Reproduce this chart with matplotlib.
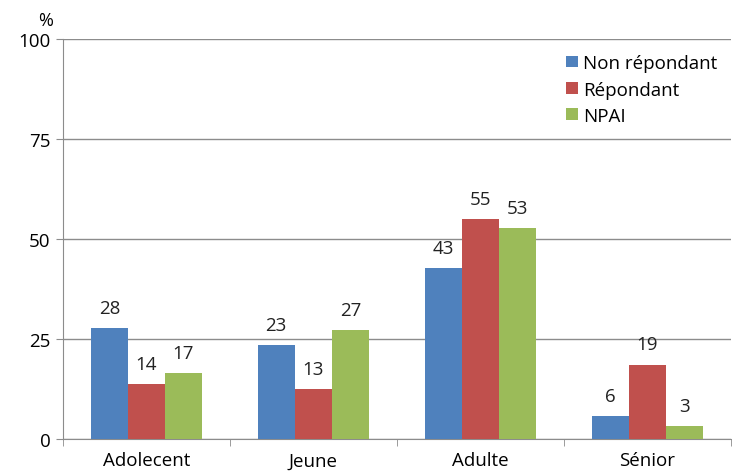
import numpy as np
import matplotlib
matplotlib.use("Agg")
import matplotlib.pyplot as plt

# donnees (%)
categories = ["Adolecent", "Jeune", "Adulte", "Sénior"]
series = ["Non répondant", "Répondant", "NPAI"]
non_repondant = [27.7, 23.5, 42.7, 5.8]
repondant = [13.7, 12.5, 54.9, 18.6]
npai = [16.4, 27.3, 52.7, 3.2]
etiquettes = [[28, 23, 43, 6], [14, 13, 55, 19], [17, 27, 53, 3]]
couleurs = ["#4F81BD", "#C0504D", "#9BBB59"]

plt.rcParams['font.family'] = ['Open Sans', 'DejaVu Sans']

fig = plt.figure(figsize=(7.32, 4.77), dpi=100)
ax = fig.add_axes([0.086, 0.0776, 0.912, 0.8385])

x = np.arange(len(categories))
w = 0.222
valeurs = [non_repondant, repondant, npai]
for i, (v, c, nom) in enumerate(zip(valeurs, couleurs, series)):
    barres = ax.bar(x + (i - 1) * w, v, w, color=c, label=nom, zorder=3)
    for b, lab in zip(barres, etiquettes[i]):
        ax.annotate(str(lab), (b.get_x() + b.get_width() / 2, b.get_height()),
                    xytext=(0, 8), textcoords="offset points",
                    ha="center", va="bottom", fontsize=13.5, color="#222222")

ax.set_xlim(-0.5, 3.5)
ax.set_ylim(0, 100)
ax.set_yticks([0, 25, 50, 75, 100])
ax.yaxis.grid(True, color="#8c8c8c", lw=1, zorder=0)
ax.set_xticks(x)
ax.set_xticklabels(categories)
ax.set_xticks([-0.5, 0.5, 1.5, 2.5, 3.5], minor=True)
ax.tick_params(axis="x", which="major", length=0, pad=9, labelsize=13.5)
ax.tick_params(axis="x", which="minor", length=5, color="#8c8c8c")
ax.tick_params(axis="y", length=5, color="#8c8c8c", labelsize=13.5, pad=4)

for s in ["top", "right"]:
    ax.spines[s].set_visible(False)
for s in ["left", "bottom"]:
    ax.spines[s].set_color("#8c8c8c")

fig.text(0.052, 0.955, "%", fontsize=13, ha="left", va="center")

ax.legend(loc="upper right", bbox_to_anchor=(1.0, 0.995), frameon=False,
          handlelength=0.6, handleheight=0.6, handletextpad=0.3,
          labelspacing=0.45, fontsize=13.5, borderaxespad=0.3)

fig.savefig("out.png", dpi=100)
